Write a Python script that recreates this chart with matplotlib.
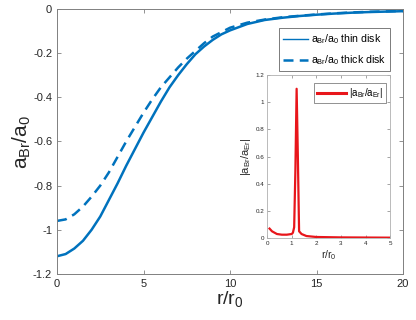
import matplotlib
matplotlib.use("Agg")
import matplotlib.pyplot as plt

plt.rcParams['font.family'] = ['Liberation Sans', 'DejaVu Sans']
plt.rcParams['mathtext.fontset'] = 'custom'
plt.rcParams['mathtext.rm'] = 'Liberation Sans'
plt.rcParams['mathtext.it'] = 'Liberation Sans'

# Main curves
r_thin = [0, 0.5, 1, 1.5, 2, 2.5, 3, 3.5, 4, 4.5, 5, 5.5, 6, 6.5, 7, 7.5, 8, 8.5, 9, 9.5, 10, 11, 12, 13, 14, 15, 16, 17, 18, 19, 20]
a_thin = [-1.12, -1.11, -1.085, -1.05, -1.0, -0.94, -0.865, -0.79, -0.71, -0.635, -0.56, -0.49, -0.42, -0.355, -0.30, -0.25, -0.205, -0.17, -0.14, -0.115, -0.097, -0.068, -0.05, -0.04, -0.032, -0.026, -0.021, -0.017, -0.014, -0.012, -0.01]
r_thick = [0, 0.5, 1, 1.5, 2, 2.5, 3, 3.5, 4, 4.5, 5, 5.5, 6, 6.5, 7, 7.5, 8, 8.5, 9, 10, 11, 12, 13, 14, 15, 16, 17, 18, 19, 20]
a_thick = [-0.96, -0.953, -0.93, -0.895, -0.85, -0.80, -0.74, -0.67, -0.60, -0.535, -0.47, -0.41, -0.355, -0.31, -0.265, -0.225, -0.19, -0.155, -0.125, -0.085, -0.062, -0.048, -0.038, -0.031, -0.025, -0.02, -0.016, -0.013, -0.011, -0.009]

# Inset ratio
r_in = [0.1, 0.2, 0.4, 0.6, 0.8, 1.0, 1.05, 1.1, 1.15, 1.2, 1.25, 1.3, 1.4, 1.6, 2.0, 3.0, 4.0, 5.0]
ratio = [0.07, 0.05, 0.03, 0.025, 0.025, 0.03, 0.04, 0.08, 0.5, 1.1, 0.6, 0.05, 0.03, 0.015, 0.008, 0.005, 0.004, 0.003]

xticks_main = [0, 5, 10, 15, 20]
yticks_main = [-1.2, -1.0, -0.8, -0.6, -0.4, -0.2, 0]
yticklabels_main = ['-1.2', '-1', '-0.8', '-0.6', '-0.4', '-0.2', '0']
xticks_in = [0, 1, 2, 3, 4, 5]
yticks_in = [0, 0.2, 0.4, 0.6, 0.8, 1.0, 1.2]
yticklabels_in = ['0', '0.2', '0.4', '0.6', '0.8', '1', '1.2']

blue = '#0072BD'
red = '#E8161B'
gray = '#808080'
tc = '#262626'

fig = plt.figure(figsize=(4.16, 3.2), dpi=100)
ax = fig.add_axes([0.137, 0.144, 0.832, 0.828])
ax.plot(r_thin, a_thin, color=blue, lw=1.8, label=r'a$_{\rm Br}$/a$_0$ thin disk')
ax.plot(r_thick, a_thick, color=blue, lw=1.8, ls=(0, (4, 2.5)), label=r'a$_{\rm Br}$/a$_0$ thick disk')
ax.set_xlim(0, 20)
ax.set_ylim(-1.2, 0)
ax.set_xticks(xticks_main)
ax.set_yticks(yticks_main)
ax.set_yticklabels(yticklabels_main)
ax.tick_params(direction='in', length=3, width=0.6, colors=gray, labelcolor=tc, labelsize=8, top=True, right=True)
for s in ax.spines.values():
    s.set_color(gray)
    s.set_linewidth(0.7)
ax.set_xlabel(r'r/r$_0$', fontsize=14, color=tc, labelpad=0)
ax.set_ylabel(r'a$_{\rm Br}$/a$_0$', fontsize=15, color=tc, labelpad=0)
leg = ax.legend(loc='upper right', bbox_to_anchor=(0.962, 0.928), borderaxespad=0, fontsize=7.6, frameon=True,
                fancybox=False, edgecolor='#404040', handlelength=2.3, borderpad=0.4, labelspacing=0.7,
                handletextpad=0.3)
leg.get_frame().set_linewidth(0.6)
leg.get_lines()[0].set_linewidth(1.0)

axi = fig.add_axes([0.642, 0.256, 0.296, 0.509])
axi.plot(r_in, ratio, color=red, lw=1.6, label=r'|a$_{\rm Br}$/a$_{\rm Er}$|')
axi.set_xlim(0, 5)
axi.set_ylim(0, 1.2)
axi.set_xticks(xticks_in)
axi.set_yticks(yticks_in)
axi.set_yticklabels(yticklabels_in)
axi.tick_params(direction='in', length=2, width=0.5, colors=gray, labelcolor=tc, labelsize=4.5, pad=2, top=True, right=True)
for s in axi.spines.values():
    s.set_color('#b0b0b0')
    s.set_linewidth(0.6)
axi.set_xlabel(r'r/r$_0$', fontsize=7.5, color=tc, labelpad=2)
axi.set_ylabel(r'|a$_{\rm Br}$/a$_{\rm Er}$|', fontsize=8, color=tc, labelpad=2)
leg2 = axi.legend(loc='upper right', bbox_to_anchor=(0.967, 0.95), borderaxespad=0, fontsize=7, frameon=True,
                  fancybox=False, edgecolor='#404040', handlelength=3.0, borderpad=0.3, handletextpad=0.3)
leg2.get_frame().set_linewidth(0.5)
leg2.get_lines()[0].set_linewidth(2.2)

fig.savefig('out.png', dpi=100)
